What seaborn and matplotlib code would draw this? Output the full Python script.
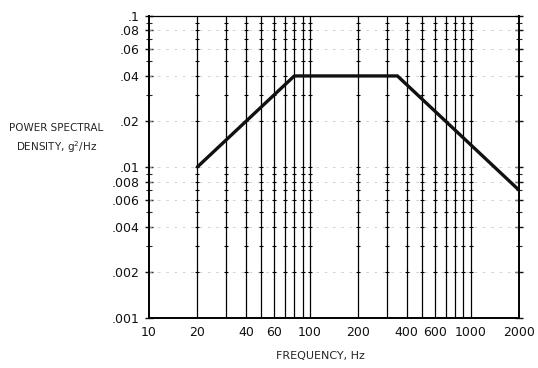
import numpy as np
import pandas as pd
import matplotlib
matplotlib.use("Agg")
import matplotlib.pyplot as plt
import seaborn as sns
from matplotlib.ticker import FixedLocator, FixedFormatter, NullFormatter

# --- datos del espectro (puntos de quiebre) ---
freq_hz = [20, 80, 350, 2000]
psd_g2hz = [0.01, 0.04, 0.04, 0.007]

# --- ejes ---
x_ticks = [10, 20, 40, 60, 100, 200, 400, 600, 1000, 2000]
x_labels = ["10", "20", "40", "60", "100", "200", "400", "600", "1000", "2000"]
y_ticks = [0.001, 0.002, 0.004, 0.006, 0.008, 0.01, 0.02, 0.04, 0.06, 0.08, 0.1]
y_labels = [".001", ".002", ".004", ".006", ".008", ".01", ".02", ".04", ".06", ".08", ".1"]
y_minor = [0.003, 0.005, 0.007, 0.009, 0.03, 0.05, 0.07, 0.09]
v_grid = [20, 30, 40, 50, 60, 70, 80, 90, 100, 200, 300, 400, 500, 600, 700, 800, 900, 1000]

sns.set_theme(style="white")
plt.rcParams['font.family'] = ['DejaVu Sans']

df = pd.DataFrame({'f': freq_hz, 'psd': psd_g2hz})

fig = plt.figure(figsize=(5.38, 3.68), dpi=100)
ax = fig.add_axes([0.277, 0.136, 0.688, 0.821])

# rejilla vertical
for xv in v_grid:
    ax.axvline(xv, color='black', lw=0.9, zorder=1)
# rejilla horizontal tenue
for yv in y_ticks[1:-1]:
    ax.axhline(yv, color='#c4c4c4', lw=0.5, ls=(0, (4, 8)), zorder=1)
# pequeñas marcas en los cruces
gx, gy = np.meshgrid(v_grid, y_ticks[1:-1] + y_minor)
ax.scatter(gx.ravel(), gy.ravel(), marker='_', s=12, color='black', lw=0.8, zorder=2)

sns.lineplot(data=df, x='f', y='psd', ax=ax, color='#111111', lw=2.4, zorder=3)

ax.set_xscale('log')
ax.set_yscale('log')
ax.set_xlim(10, 2000)
ax.set_ylim(0.001, 0.1)

ax.xaxis.set_major_locator(FixedLocator(x_ticks))
ax.xaxis.set_major_formatter(FixedFormatter(x_labels))
ax.xaxis.set_minor_formatter(NullFormatter())
ax.xaxis.set_minor_locator(FixedLocator([]))
ax.yaxis.set_major_locator(FixedLocator(y_ticks))
ax.yaxis.set_major_formatter(FixedFormatter(y_labels))
ax.yaxis.set_minor_locator(FixedLocator(y_minor))
ax.yaxis.set_minor_formatter(NullFormatter())

ax.tick_params(axis='x', length=0, pad=6, labelsize=9, colors='#111111')
ax.tick_params(axis='y', which='major', direction='inout', length=6, width=1,
               labelsize=9, pad=4, colors='#111111', right=True, left=True)
ax.tick_params(axis='y', which='minor', direction='inout', length=4, width=0.8,
               right=True, left=True)

for s in ax.spines.values():
    s.set_color('black')
    s.set_linewidth(1.4)
ax.spines['top'].set_linewidth(0.9)

ax.set_xlabel('')
ax.set_ylabel('')
fig.text(0.595, 0.032, 'FREQUENCY, Hz', ha='center', va='center', fontsize=8)
fig.text(0.105, 0.652, 'POWER SPECTRAL', ha='center', va='center', fontsize=7.5)
fig.text(0.105, 0.600, 'DENSITY, g$^2$/Hz', ha='center', va='center', fontsize=7.5)

fig.savefig('out.png', dpi=100)
plt.close(fig)
